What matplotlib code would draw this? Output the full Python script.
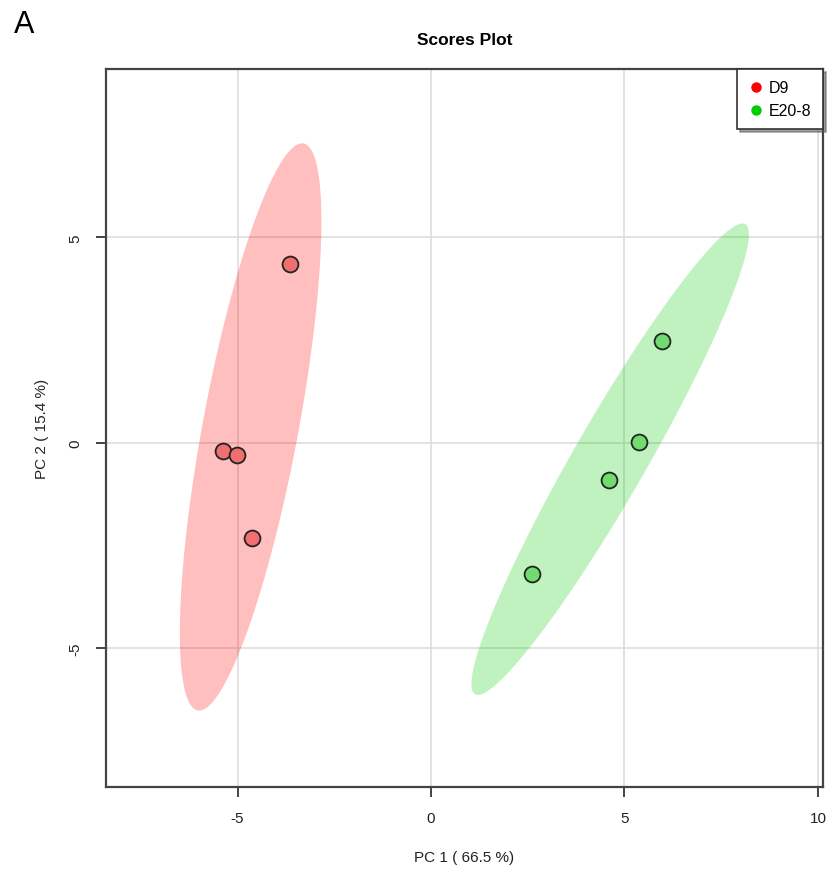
import numpy as np
import matplotlib
matplotlib.use("Agg")
import matplotlib.pyplot as plt
from matplotlib.patches import Polygon
from matplotlib.lines import Line2D

plt.rcParams['font.family'] = ['Liberation Sans', 'DejaVu Sans']

groups = ["D9", "E20-8"]
d9_pc1 = [-3.64, -5.37, -5.02, -4.62]
d9_pc2 = [4.35, -0.20, -0.30, -2.33]
e20_pc1 = [5.96, 5.37, 4.59, 2.60]
e20_pc2 = [2.47, 0.02, -0.91, -3.20]
xticks = [-5, 0, 5, 10]
yticks = [-5, 0, 5]
title = "Scores Plot"
xlabel = "PC 1 ( 66.5 %)"
ylabel = "PC 2 ( 15.4 %)"

fill_colors = ["#FF0000", "#00CC00"]
point_colors = ["#F07070", "#70DC70"]
legend_colors = ["#FF0000", "#00CC00"]

fig = plt.figure(figsize=(8.3, 8.7), dpi=100)
ax = fig.add_axes([106/830, 1-788/870, (823-106)/830, (788-70)/870])

def conf_ellipse(x, y, t=np.sqrt(5.991464547), n=200):
    x = np.asarray(x); y = np.asarray(y)
    cov = np.cov(x, y)
    vals, vecs = np.linalg.eigh(cov)
    th = np.linspace(0, 2*np.pi, n)
    circ = np.vstack([np.cos(th), np.sin(th)])
    pts = vecs @ (np.sqrt(vals)[:, None] * circ) * t
    return np.column_stack([pts[0] + x.mean(), pts[1] + y.mean()])

data = [(d9_pc1, d9_pc2), (e20_pc1, e20_pc2)]
for (xs, ys), fc in zip(data, fill_colors):
    poly = Polygon(conf_ellipse(xs, ys), closed=True, facecolor=fc, alpha=0.25,
                   edgecolor='none', zorder=1)
    ax.add_patch(poly)

for (xs, ys), pc in zip(data, point_colors):
    ax.scatter(xs, ys, s=130, facecolor=pc, edgecolor='#222222', linewidth=1.3, zorder=4)

ax.set_xlim(-8.40, 10.13)
ax.set_ylim(-8.39, 9.10)
ax.set_xticks(xticks)
ax.set_yticks(yticks)
ax.set_xticklabels([str(v) for v in xticks])
ax.set_yticklabels([str(v) for v in yticks], rotation=90, va='center')
ax.grid(True, color='#DDDDDD', linewidth=1.2, zorder=0)
ax.set_axisbelow(True)
for sp in ax.spines.values():
    sp.set_color('#444444')
    sp.set_linewidth(1.6)
ax.tick_params(axis='both', direction='out', length=7, width=1.4, color='#444444',
               labelsize=11, labelcolor='#222222', pad=10)

ax.set_xlabel(xlabel, fontsize=11, labelpad=18, color='#222222')
ax.set_ylabel(ylabel, fontsize=11, labelpad=14, color='#222222')
ax.set_title(title, fontsize=12.5, fontweight='bold', pad=18)

handles = [Line2D([0], [0], marker='o', linestyle='none', markersize=6.5,
                  markerfacecolor=c, markeredgecolor=c) for c in legend_colors]
leg = ax.legend(handles, groups, loc='upper right', borderaxespad=0, fontsize=11.5,
                frameon=True, fancybox=False, shadow=True, handletextpad=0.3,
                handlelength=1.0, borderpad=0.7, labelspacing=0.5)
leg.get_frame().set_edgecolor('#333333')
leg.get_frame().set_linewidth(1.2)

fig.text(14/830, 1-25/870, "A", fontsize=22, va='center', ha='left')

fig.savefig("out.png", dpi=100)
